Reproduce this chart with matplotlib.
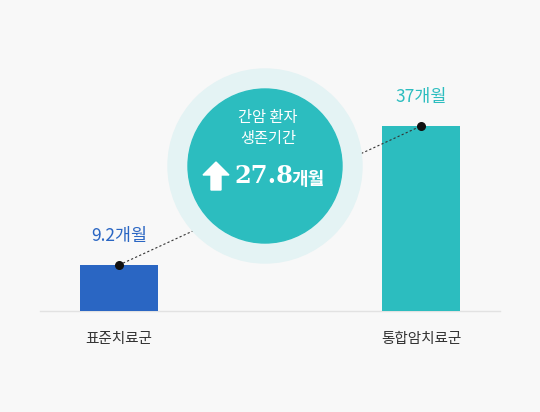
import matplotlib
matplotlib.use("Agg")
import matplotlib.pyplot as plt
from matplotlib.patches import Circle, FancyArrow

plt.rcParams['font.family'] = ['Noto Sans CJK KR', 'DejaVu Sans']

categories = ['표준치료군', '통합암치료군']
values = [9.2, 37]
value_labels = ['9.2개월', '37개월']
colors = ['#2a66c3', '#2cbdbf']
center_title = '간암 환자\n생존기간'
center_value = '27.8'
center_unit = '개월'

W, H = 540, 412
fig = plt.figure(figsize=(W/100, H/100), dpi=100)
fig.patch.set_facecolor('#f8f8f8')

ax = fig.add_axes([0, 0, 1, 1], facecolor='none')
ax.set_xlim(0, W)
ax.set_ylim(-(H - 311) / 5, 311 / 5)
ax.axis('off')

xs = [119, 421]
ax.bar(xs, values, width=78, color=colors, zorder=2)
ax.plot([40, 500], [0, 0], color='#e2e2e2', lw=1, zorder=1)
ax.plot(xs, values, ls=(0, (2, 2)), color='#333333', lw=0.8, zorder=3)
ax.scatter(xs, values, s=30, color='#111111', zorder=4)
for x, v, lab, c in zip(xs, values, value_labels, colors):
    ax.text(x, v + 4, lab, ha='center', va='bottom', fontsize=12.5, color=c)
for x, cat in zip(xs, categories):
    ax.text(x, -5.5, cat, ha='center', va='center', fontsize=10.5, color='#333333')

# circle callout on top, in pixel coordinates
deco = fig.add_axes([0, 0, 1, 1], facecolor='none')
deco.set_xlim(0, W); deco.set_ylim(H, 0); deco.axis('off')
deco.add_patch(Circle((265, 166), 97, color='#e4f3f4', zorder=0))
deco.add_patch(Circle((265, 166), 77, color='#2cbdbf', zorder=1))
deco.text(268, 128, center_title, ha='center', va='center', fontsize=11, color='white',
          linespacing=1.25, zorder=5)
deco.add_patch(FancyArrow(216, 190, 0, -28, width=10, head_width=26, head_length=13,
                          color='white', zorder=5, length_includes_head=True))
deco.text(234, 176, center_value, ha='left', va='center', fontsize=17.5, color='white',
          family=['DejaVu Serif'], weight='bold', zorder=5)
deco.text(291, 179, center_unit, ha='left', va='center', fontsize=13, color='white',
          weight='bold', zorder=5)

fig.savefig('out.png', dpi=100, facecolor=fig.get_facecolor())
